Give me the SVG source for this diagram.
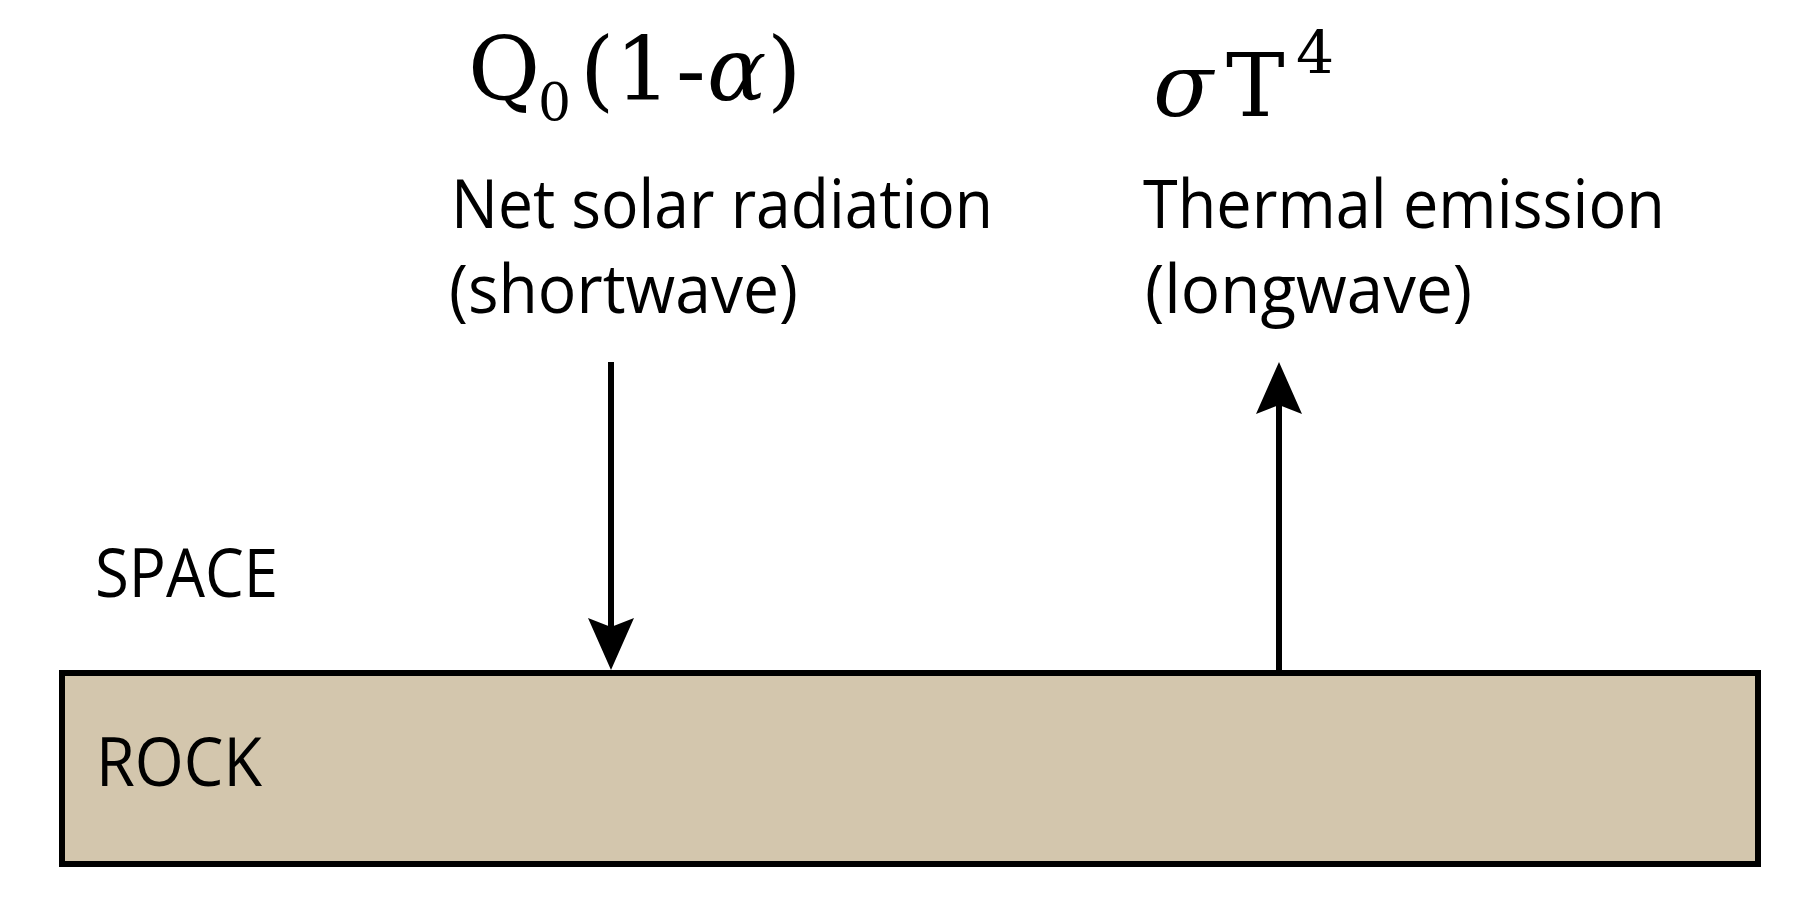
<svg xmlns="http://www.w3.org/2000/svg" width="1794" height="906" viewBox="0 0 1794 906">
  <style>
    .lbl { font-family: "Open Sans", "Noto Sans", "Liberation Sans", sans-serif; font-size: 68px; fill: #000; }
    .math { font-family: "DejaVu Serif", "Liberation Serif", serif; font-size: 88px; fill: #000; }
    .it { font-style: italic; }
    .conn { stroke: #000; stroke-width: 6; fill: none; }
  </style>
  <defs>
    <marker id="head" viewBox="0 0 52 46" refX="9" refY="23" markerWidth="52" markerHeight="46" markerUnits="userSpaceOnUse" orient="auto">
      <path d="M0,0 L52,23 L0,46 L9,23 Z" fill="#000"/>
    </marker>
  </defs>
  <rect width="1794" height="906" fill="#fff"/>

  <g id="rock">
    <rect x="62" y="673" width="1696" height="191" fill="#D3C6AD" stroke="#000" stroke-width="6"/>
    <text class="lbl" x="96" y="786" textLength="166" lengthAdjust="spacingAndGlyphs">ROCK</text>
  </g>

  <g id="space">
    <text class="lbl" x="95" y="597" textLength="183" lengthAdjust="spacingAndGlyphs">SPACE</text>
  </g>

  <g id="solar">
    <text class="math" y="100"><tspan x="468">Q</tspan><tspan x="538" y="120" font-size="52">0</tspan><tspan x="580" y="100">(</tspan><tspan x="615">1</tspan><tspan x="676">-</tspan><tspan x="707" class="it">α</tspan><tspan x="767">)</tspan></text>
    <text class="lbl" x="451" y="228" textLength="542" lengthAdjust="spacingAndGlyphs">Net solar radiation</text>
    <text class="lbl" x="449" y="313" textLength="349" lengthAdjust="spacingAndGlyphs">(shortwave)</text>
  </g>

  <g id="thermal">
    <text class="math" y="116"><tspan x="1153" class="it">σ</tspan><tspan x="1226">T</tspan><tspan x="1296" y="74" font-size="60">4</tspan></text>
    <text class="lbl" x="1143" y="228" textLength="522" lengthAdjust="spacingAndGlyphs">Thermal emission</text>
    <text class="lbl" x="1145" y="313" textLength="327" lengthAdjust="spacingAndGlyphs">(longwave)</text>
  </g>

  <g id="connectors">
    <line class="conn" x1="611" y1="362" x2="611" y2="627" marker-end="url(#head)"/>
    <line class="conn" x1="1279" y1="670" x2="1279" y2="405" marker-end="url(#head)"/>
  </g>
</svg>
